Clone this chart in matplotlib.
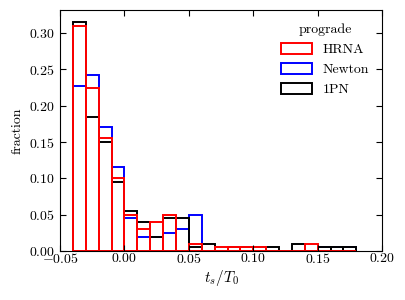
import numpy as np
import matplotlib
matplotlib.use('Agg')
import matplotlib.pyplot as plt

plt.rcParams['font.family'] = 'serif'
plt.rcParams['font.serif'] = ['cmr10']
plt.rcParams['mathtext.fontset'] = 'cm'
plt.rcParams['axes.formatter.use_mathtext'] = True

# left bin edges, bin width 0.01
bin_left = np.round(np.arange(-0.04, 0.18, 0.01), 2)
bin_width = 0.01

hrna = [0.310, 0.225, 0.155, 0.100, 0.050, 0.030, 0.040, 0.050, 0.000, 0.010, 0.000,
        0.005, 0.005, 0.005, 0.005, 0.000, 0.000, 0.000, 0.010, 0.000, 0.000, 0.000]
newton = [0.227, 0.242, 0.171, 0.116, 0.045, 0.020, 0.020, 0.025, 0.030, 0.050, 0.000,
          0.000, 0.000, 0.000, 0.000, 0.000, 0.000, 0.000, 0.000, 0.005, 0.005, 0.005]
pn1 = [0.315, 0.185, 0.150, 0.095, 0.055, 0.040, 0.020, 0.045, 0.045, 0.005, 0.010,
       0.000, 0.005, 0.005, 0.005, 0.005, 0.000, 0.010, 0.000, 0.005, 0.005, 0.005]

series = [('Newton', newton, 'blue'), ('1PN', pn1, 'black'), ('HRNA', hrna, 'red')]
legend_order = ['HRNA', 'Newton', '1PN']


def main():
    fig = plt.figure(figsize=(4.06, 3.0), dpi=100)
    ax = fig.add_axes([0.148, 0.163, 0.793, 0.804])

    handles = {}
    for name, vals, col in series:
        bars = ax.bar(bin_left, vals, width=bin_width, align='edge', fill=False,
                      edgecolor=col, linewidth=1.4, label=name)
        handles[name] = bars

    ax.set_xlim(-0.05, 0.20)
    ax.set_ylim(0, 0.332)
    ax.set_xticks(np.arange(-0.05, 0.201, 0.05))
    ax.set_yticks(np.arange(0, 0.301, 0.05))
    ax.tick_params(direction='in', top=True, right=True, labelsize=10, length=4)
    ax.tick_params(axis='x', pad=1)
    ax.set_xlabel(r'$t_s/T_0$', fontsize=11, labelpad=1)
    ax.set_ylabel('fraction', fontsize=10)

    ax.legend([handles[n] for n in legend_order], legend_order, title='prograde',
              frameon=False, loc='upper right', fontsize=10, title_fontsize=10,
              handlelength=2.2, handleheight=0.8, bbox_to_anchor=(1.0, 0.995))

    fig.savefig('out.png', dpi=100)


if __name__ == '__main__':
    main()
